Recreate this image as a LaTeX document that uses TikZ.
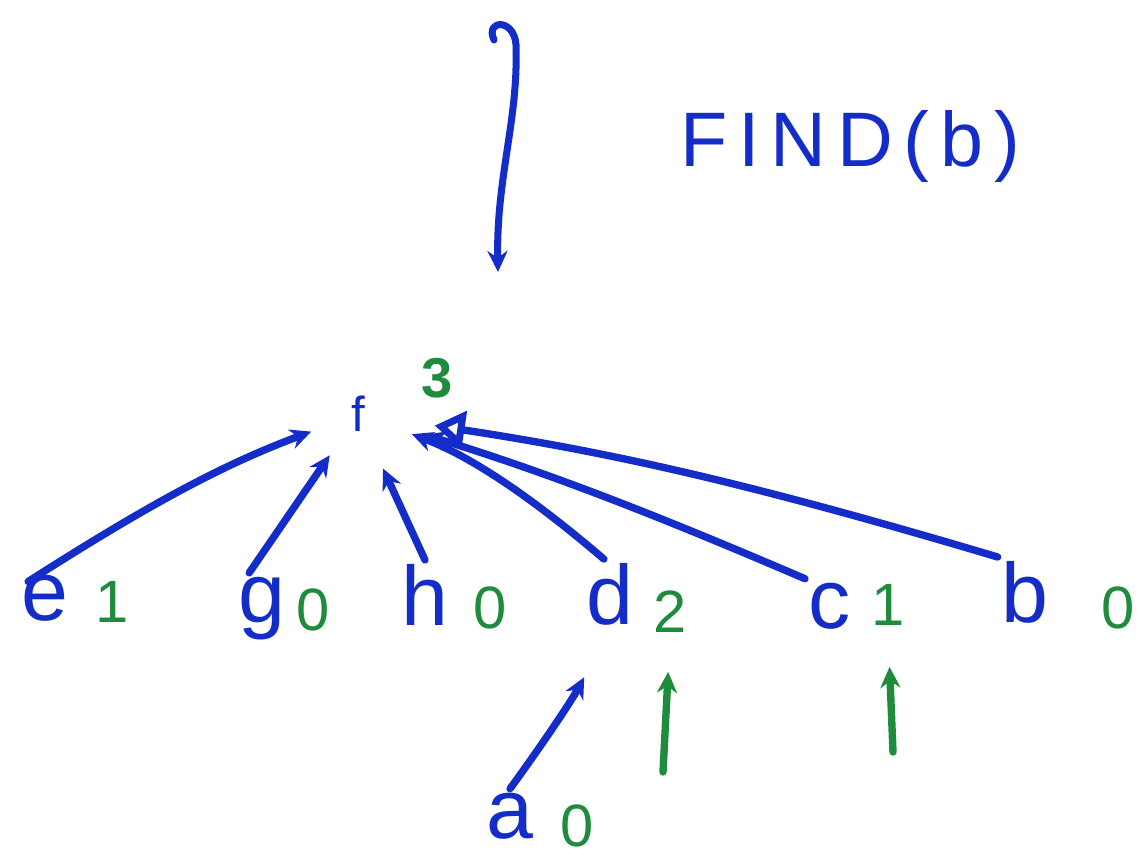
\documentclass[tikz,border=0pt]{standalone}
\usepackage{fontspec}
\setmainfont{Liberation Sans}
\usetikzlibrary{arrows.meta}
\definecolor{inkblue}{RGB}{20,45,200}
\definecolor{inkgreen}{RGB}{30,140,60}
\tikzset{
  elem/.style={text=inkblue, font=\fontsize{48}{50}\selectfont, inner sep=2pt, anchor=base},
  rank/.style={text=inkgreen, font=\fontsize{34}{36}\selectfont, inner sep=2pt, anchor=base},
  link/.style={draw=inkblue, line width=4.2pt, line cap=round, line join=round,
    -{Stealth[length=0.42cm, width=0.4cm]}},
  biglink/.style={draw=inkblue, line width=4.2pt, line cap=round, line join=round,
    -{Triangle[open, length=0.6cm, width=0.75cm, line width=4pt]}},
  rankup/.style={draw=inkgreen, line width=4.2pt, line cap=round,
    -{Stealth[length=0.42cm, width=0.4cm]}},
}
\begin{document}
\begin{tikzpicture}[x=0.02cm, y=-0.02cm]
  \useasboundingbox (0,0) rectangle (1148,866);
  \fill[white] (0,0) rectangle (1148,866);

  % FIND call and its arrow
  \node[text=inkblue, font=\fontsize{44}{46}\selectfont\addfontfeatures{LetterSpace=14},
        anchor=base west, inner sep=0pt] (find) at (680,166) {FIND(b)};
  \coordinate (callstart) at (494,40);
  \coordinate (callend) at (498,272);
  \draw[draw=inkblue, line width=4pt, line cap=round, line join=round,
        -{Stealth[length=0.42cm, width=0.4cm]}]
    (callstart) .. controls (484,18) and (518,18) .. (516,50)
    .. controls (518,120) and (496,180) .. (callend);

  % root of the tree and its rank
  \node[text=inkblue, font=\fontsize{28}{30}\selectfont, inner sep=1pt] (f) at (358,414) {f};
  \node[rank, font=\fontsize{32}{34}\selectfont\bfseries] (r3) at (437,397) {3};

  % children of the root, with their ranks
  \node[elem] (e) at (45,620) {e};
  \node[rank] (re) at (112,622) {1};
  \node[elem] (g) at (262,622) {g};
  \node[rank] (rg) at (313,630) {0};
  \node[elem] (h) at (425,625) {h};
  \node[rank] (rh) at (490,628) {0};
  \node[elem] (d) at (610,624) {d};
  \node[rank] (rd) at (670,632) {2};
  \node[elem] (c) at (830,628) {c};
  \node[rank] (rc) at (888,625) {1};
  \node[elem] (b) at (1025,622) {b};
  \node[rank] (rb) at (1118,628) {0};

  % element below d
  \node[elem] (a) at (510,838) {a};
  \node[rank] (ra) at (577,846) {0};

  % parent pointers
  \draw[link, shorten <=-0.4cm, shorten >=1.0cm] (e.north) to[bend left=6] (f.center);
  \draw[link, shorten >=1.0cm] (g.110) -- (f.center);
  \draw[link, shorten >=1.2cm] (h.north) -- (f.center);
  \draw[link, shorten >=1.15cm] (d.100) to[bend right=10] (f.center);
  \draw[link, shorten >=1.4cm] (c.north west) to[bend right=3] (f.center);
  \draw[biglink, shorten >=1.55cm] (b.north west) to[bend right=4] (f.center);
  \draw[link, shorten >=1.1cm] (a.north) to[bend right=4] (d.south);

  % rank changes
  \coordinate (upd) at (663,772);
  \coordinate (upc) at (893,752);
  \draw[rankup, shorten >=0.72cm] (upd) -- (rd.south);
  \draw[rankup, shorten >=0.76cm] (upc) -- (rc.south);
\end{tikzpicture}
\end{document}
